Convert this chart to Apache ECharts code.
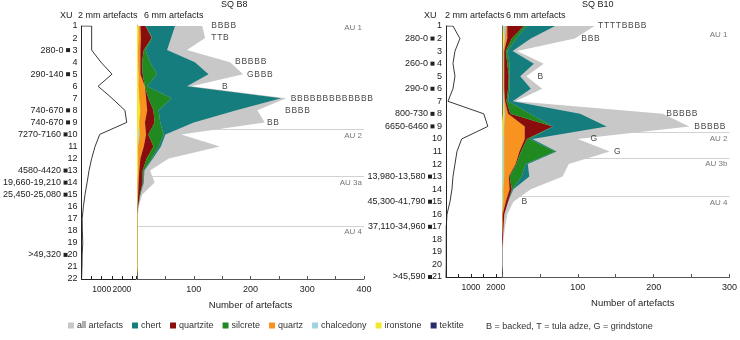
<!DOCTYPE html>
<html>
<head>
<meta charset="utf-8" />
<title>SQ B8 / SQ B10 artefacts</title>
<style>
  html, body { margin: 0; padding: 0; background: #fff; }
  #chart { width: 740px; height: 340px; }
</style>
</head>
<body>
<div id="chart"></div>
<script src="https://cdn.jsdelivr.net/npm/echarts@6/dist/echarts.min.js"></script>
<script>
// excavation units
var xuB8 = ['1','2','3','4','5','6','7','8','9','10','11','12','13','14','15','16','17','18','19','20','21','22'];
var xuB10 = ['1','2','3','4','5','6','7','8','9','10','11','12','13','14','15','16','17','18','19','20','21'];

// radiocarbon / OSL ages beside XU labels
var datesB8 = {3:'280-0', 5:'290-140', 8:'740-670', 9:'740-670', 10:'7270-7160', 13:'4580-4420', 14:'19,660-19,210', 15:'25,450-25,080', 20:'>49,320'};
var datesB10 = {2:'280-0', 4:'260-0', 6:'290-0', 8:'800-730', 9:'6650-6460', 13:'13,980-13,580', 15:'45,300-41,790', 17:'37,110-34,960', 21:'>45,590'};

// 2 mm artefacts
var fineB8 = [500,500,500,960,1510,820,1510,2150,2240,900,670,500,370,275,170,90,30,40,60,30,20,0];
var fineB10 = [280,560,360,280,360,280,80,1520,1680,630,440,360,280,240,160,40,10,10,10,10,0];

// 6 mm artefacts, SQ B8
var allB8        = [115,120,88,164,187,96,263,212,225,78,146,56,23,31,9,3,1,1,1,1,1,1];
var chertB8      = [51,33,38,79,91,70,193,137,59,3,4,2,1,1,0,0,0,0,0,0,0,0];
var quartziteB8  = [9,19,6,3,4,0,4,11,17,4,17,11,6,7,3,1,0,0,0,0,0,0];
var silcreteB8   = [1,1,3,14,25,4,41,9,10,27,9,9,2,1,1,0,0,0,0,0,0,0];
var quartzB8     = [3,4,4,4,3,11,12,12,10,11,10,4,2,2,1,0,0,0,0,0,0,0];
var chalcedonyB8 = [0,0,0,0,0,0,0,0,0,2,0,0,0,0,0,0,0,0,0,0,0,0];
var ironstoneB8  = [3,3,2,2,3,3,4,6,4,3,2,2,2,1,1,1,1,1,1,1,1,1];
var tektiteB8    = [0,0,0,0,0,0,0,0,0,0,0,0,0,0,0,0,0,0,0,0,0,0];

// 6 mm artefacts, SQ B10
var allB10        = [122,96,20,55,32,53,18,212,247,100,142,88,80,38,15,7,4,2,1,1,0];
var chertB10      = [38,19,7,32,14,28,6,66,71,4,2,3,10,1,0,0,0,0,0,0,0];
var quartziteB10  = [22,6,2,4,6,5,2,3,37,3,2,1,1,3,3,2,1,1,0,0,0];
var silcreteB10   = [3,6,2,3,1,2,2,26,0,3,45,12,16,1,0,0,0,0,0,0,0];
var quartzB10     = [2,3,1,1,1,1,1,4,27,27,20,15,6,8,3,1,1,0,0,0,0];
var chalcedonyB10 = [3,1,0,0,0,0,1,1,1,2,2,2,2,1,1,0,0,0,0,0,0];
var ironstoneB10  = [1,2,1,1,1,1,1,2,2,1,1,1,1,1,1,0,0,0,0,0,0];
var tektiteB10    = [1,1,1,1,1,1,1,1,0,0,0,0,0,0,0,0,0,0,0,0,0];

// artefact type notes (B = backed, T = tula adze, G = grindstone)
var notesB8 = [
  {xu:1, text:'BBBB', at:130}, {xu:2, text:'TTB', at:130}, {xu:4, text:'BBBBB', at:172},
  {xu:5, text:'GBBB', at:193}, {xu:6, text:'B', at:149}, {xu:7, text:'BBBBBBBBBBBBB', at:270},
  {xu:8, text:'BBBB', at:260}, {xu:9, text:'BB', at:228}
];
var notesB10 = [
  {xu:1, text:'TTTTBBBB', at:126}, {xu:2, text:'BBB', at:104}, {xu:5, text:'B', at:46},
  {xu:8, text:'BBBBB', at:216}, {xu:9, text:'BBBBB', at:253}, {xu:10, text:'G', at:116},
  {xu:11, text:'G', at:147}, {xu:15, text:'B', at:25}
];

// analytical unit boundaries (in XU); AU 1 has a label only
var auB8 = [{name:'AU 1', at:1.67, line:false, pos:'insideEndTop'}, {name:'AU 2', at:9.6}, {name:'AU 3a', at:13.5}, {name:'AU 4', at:17.6}];
var auB10 = [{name:'AU 1', at:1.2, line:false}, {name:'AU 2', at:9.5}, {name:'AU 3b', at:11.5}, {name:'AU 4', at:14.6}];

var legendNames = ['all artefacts','chert','quartzite','silcrete','quartz','chalcedony','ironstone','tektite'];
var colors = {
  'all artefacts':'#c8c8c8', 'chert':'#157d7e', 'quartzite':'#8a0d0d', 'silcrete':'#20891f',
  'quartz':'#f7931e', 'chalcedony':'#9fd3e2', 'ironstone':'#f3e92c', 'tektite':'#262c6e'
};

var FONT = 'Liberation Sans';
var chart = echarts.init(document.getElementById('chart'));

function xuLabel(dates) {
  return function (val) {
    var d = dates[val];
    return d ? d + ' {sq|}' + (val.length < 2 ? ' ' : '') + val : val;
  };
}

function fineAxis(grid, max) {
  return {
    gridIndex: grid, type: 'value', min: 0, max: max, interval: 500,
    axisLine: {show: true, lineStyle: {color: '#222', width: 1}},
    axisTick: {show: true, inside: true, length: 3, lineStyle: {color: '#222'}},
    axisLabel: {fontSize: 8.5, color: '#222', fontFamily: FONT, margin: 6,
      formatter: function (v) { return (v === 1000 || v === 2000) ? String(v) : ''; }},
    splitLine: {show: false}
  };
}

function mainAxis(grid, max, pad) {
  return {
    gridIndex: grid, type: 'value', min: 0, max: max, interval: 50,
    name: 'Number of artefacts', nameLocation: 'middle', nameGap: 21,
    nameTextStyle: {fontSize: 9.5, color: '#222', fontFamily: FONT, padding: [0, 0, 0, pad]},
    axisLine: {show: true, lineStyle: {color: '#555', width: 1}},
    axisTick: {show: true, inside: true, length: 3, lineStyle: {color: '#555'}},
    axisLabel: {fontSize: 9, color: '#222', fontFamily: FONT, margin: 6,
      formatter: function (v) { return (v > 0 && v % 100 === 0) ? String(v) : ''; }},
    splitLine: {show: false}
  };
}

function xuAxis(grid, cats, dates) {
  return {
    gridIndex: grid, type: 'category', data: cats, inverse: true, boundaryGap: false,
    axisLine: {show: true, lineStyle: {color: '#222', width: 1}},
    axisTick: {show: false},
    axisLabel: {interval: 0, fontSize: 9, color: '#222', fontFamily: FONT, margin: 4,
      formatter: xuLabel(dates),
      rich: {sq: {width: 4, height: 4, backgroundColor: '#222'}}}
  };
}

function plainCat(grid, cats) {
  return {
    gridIndex: grid, type: 'category', data: cats, inverse: true, boundaryGap: false,
    axisLine: {show: true, lineStyle: {color: '#222', width: 1}},
    axisTick: {show: false}, axisLabel: {show: false}
  };
}

function hiddenVal(grid, n) {
  return {gridIndex: grid, type: 'value', min: 1, max: n, inverse: true, show: false};
}

function panelSeries(tag, fx, fy, mx, my, vy, d) {
  var out = [];
  out.push({
    name: 'all artefacts', type: 'line', xAxisIndex: mx, yAxisIndex: my, z: 1,
    data: d.all, symbol: 'none', smooth: false, silent: true,
    lineStyle: {width: 0}, itemStyle: {color: colors['all artefacts']},
    areaStyle: {color: colors['all artefacts'], opacity: 1}
  });
  var order = ['tektite','ironstone','chalcedony','quartz','quartzite','silcrete','chert'];
  order.forEach(function (m) {
    out.push({
      name: m, type: 'line', stack: tag, xAxisIndex: mx, yAxisIndex: my, z: 2,
      data: d[m], symbol: 'none', smooth: false, silent: true,
      lineStyle: {width: 0}, itemStyle: {color: colors[m]},
      areaStyle: {color: colors[m], opacity: 1}
    });
  });
  // 2 mm curve, closed to the axis at the top
  var fine = [[0, 0]].concat(d.fine.map(function (v, i) { return [v, i]; }));
  out.push({
    name: '2 mm ' + tag, type: 'line', xAxisIndex: fx, yAxisIndex: fy,
    data: fine, symbol: 'none', silent: true,
    lineStyle: {color: '#222', width: 0.9}
  });
  // AU boundaries
  out.push({
    name: 'AU ' + tag, type: 'line', xAxisIndex: mx, yAxisIndex: vy, data: [], z: 0,
    markLine: {
      silent: true, symbol: 'none', z: 0, animation: false,
      data: d.au.map(function (a) {
        return {yAxis: a.at, name: a.name,
          lineStyle: {color: a.line === false ? 'rgba(0,0,0,0)' : '#d2d2d2', width: 1, type: 'solid'},
          label: {show: true, position: a.pos || 'insideEndBottom', formatter: a.name, distance: 2,
            fontSize: 8, color: '#777', fontFamily: FONT}};
      })
    }
  });
  // type notes
  out.push({
    name: 'notes ' + tag, type: 'scatter', xAxisIndex: mx, yAxisIndex: my, z: 5,
    symbolSize: 1, itemStyle: {color: 'rgba(0,0,0,0)'}, silent: true,
    data: d.notes.map(function (n) { return {value: [n.at, n.xu - 1], name: n.text}; }),
    label: {show: true, position: 'right', distance: 0, fontSize: 8.5, color: '#111', fontFamily: FONT,
      formatter: function (p) { return p.name.split('').join('\u200A'); }}
  });
  return out;
}

var seriesB8 = panelSeries('B8', 0, 0, 1, 1, 2, {
  all: allB8, chert: chertB8, quartzite: quartziteB8, silcrete: silcreteB8, quartz: quartzB8,
  chalcedony: chalcedonyB8, ironstone: ironstoneB8, tektite: tektiteB8,
  fine: fineB8, au: auB8, notes: notesB8
});
var seriesB10 = panelSeries('B10', 2, 3, 3, 4, 5, {
  all: allB10, chert: chertB10, quartzite: quartziteB10, silcrete: silcreteB10, quartz: quartzB10,
  chalcedony: chalcedonyB10, ironstone: ironstoneB10, tektite: tektiteB10,
  fine: fineB10, au: auB10, notes: notesB10
});

var hdr = {fontSize: 9, fontWeight: 'normal', color: '#222', fontFamily: FONT};
var option = {
  animation: false,
  backgroundColor: '#fff',
  title: [
    {text: 'SQ B8', left: 221, top: 0, padding: 0, textStyle: hdr},
    {text: 'SQ B10', left: 582, top: 0, padding: 0, textStyle: hdr},
    {text: 'XU', left: 60, top: 11, padding: 0, textStyle: hdr},
    {text: '2 mm artefacts', left: 78, top: 11, padding: 0, textStyle: hdr},
    {text: '6 mm artefacts', left: 144, top: 11, padding: 0, textStyle: hdr},
    {text: 'XU', left: 424, top: 11, padding: 0, textStyle: hdr},
    {text: '2 mm artefacts', left: 445, top: 11, padding: 0, textStyle: hdr},
    {text: '6 mm artefacts', left: 506, top: 11, padding: 0, textStyle: hdr}
  ],
  legend: {
    data: legendNames, left: 68, top: 321, padding: 0,
    itemWidth: 6, itemHeight: 6, itemGap: 9, icon: 'rect',
    textStyle: {fontSize: 9, color: '#333', fontFamily: FONT, padding: [0, 0, 0, -2]}
  },
  graphic: [{
    type: 'text', left: 486, top: 322,
    style: {text: 'B = backed, T = tula adze, G = grindstone', fontSize: 9, fill: '#333', fontFamily: FONT}
  }],
  grid: [
    {left: 77, top: 26, width: 59, bottom: 61},
    {left: 137, top: 26, width: 227, bottom: 61},
    {left: 446, top: 26, width: 56, bottom: 63},
    {left: 502, top: 26, width: 228, bottom: 63}
  ],
  xAxis: [fineAxis(0, 2700), mainAxis(1, 400, 0), fineAxis(2, 2250), mainAxis(3, 300, 34)],
  yAxis: [
    xuAxis(0, xuB8, datesB8), plainCat(1, xuB8), hiddenVal(1, 22),
    xuAxis(2, xuB10, datesB10), plainCat(3, xuB10), hiddenVal(3, 21)
  ],
  series: seriesB8.concat(seriesB10)
};
chart.setOption(option);
</script>
</body>
</html>
